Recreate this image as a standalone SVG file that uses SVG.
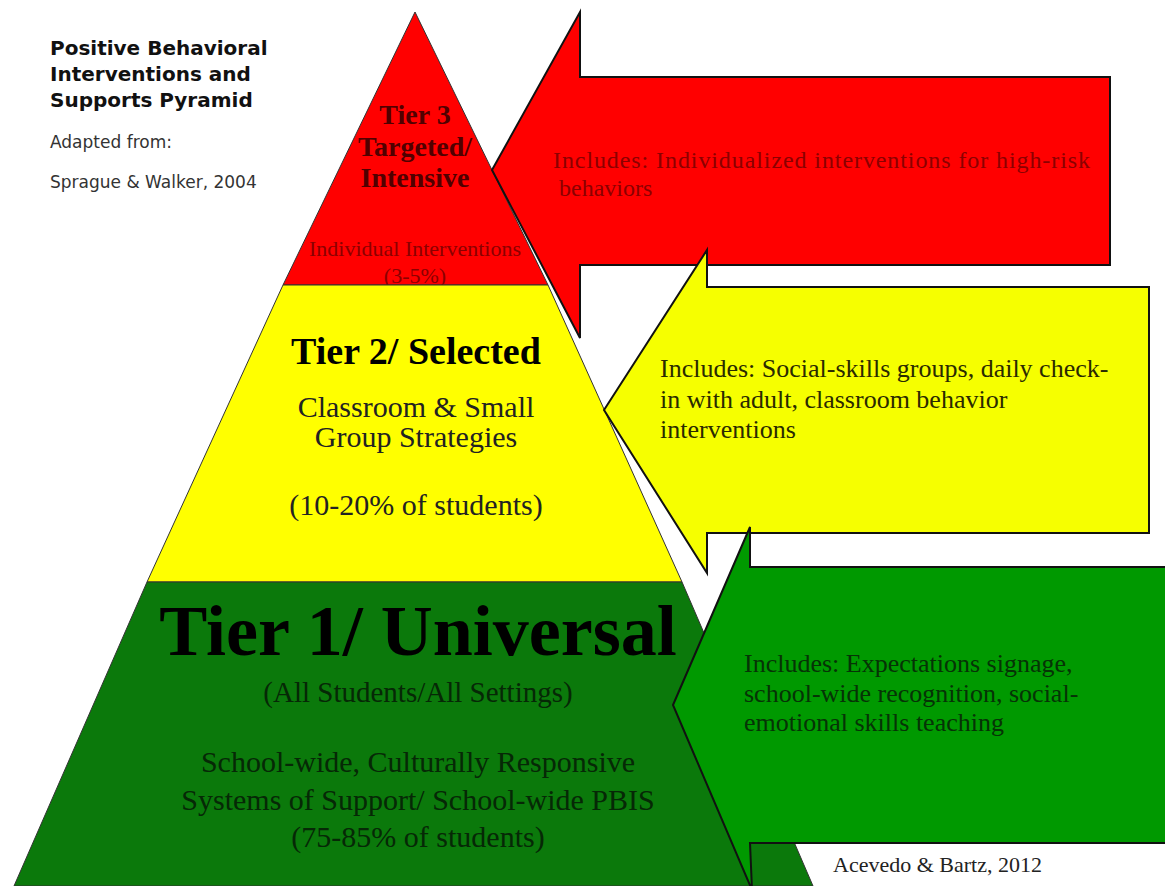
<svg xmlns="http://www.w3.org/2000/svg" width="1165" height="886" viewBox="0 0 1165 886">
<style>
.sans{font-family:"DejaVu Sans","Liberation Sans",sans-serif}
.serif{font-family:"Liberation Serif","Times New Roman",serif}
.b{font-weight:bold}
.mid{text-anchor:middle}
.pyr{stroke:#333;stroke-width:1}
.arr{stroke:#111;stroke-width:2;stroke-linejoin:miter}
</style>
<rect width="1165" height="886" fill="#ffffff"/>
<g id="title">
<text class="sans b" x="50" y="55" font-size="20" fill="#111">Positive Behavioral</text>
<text class="sans b" x="50" y="81" font-size="20" fill="#111">Interventions and</text>
<text class="sans b" x="50" y="107" font-size="20" fill="#111">Supports Pyramid</text>
<text class="sans" x="50" y="148" font-size="17" fill="#333">Adapted from:</text>
<text class="sans" x="50" y="188" font-size="17" fill="#333">Sprague &amp; Walker, 2004</text>
</g>
<g id="tier3">
<polygon class="pyr" points="415,12 548,285 283,285" fill="#ff0000" stroke="#222"/>
<text class="serif b mid" x="415" y="124" font-size="28" fill="#500000">Tier 3</text>
<text class="serif b mid" x="415" y="156" font-size="28" fill="#500000">Targeted/</text>
<text class="serif b mid" x="415" y="187" font-size="28" fill="#500000">Intensive</text>
<text class="serif mid" x="415" y="256" font-size="22" fill="#8b0000">Individual Interventions</text>
<text class="serif mid" x="415" y="283" font-size="22" fill="#8b0000">(3-5%)</text>
</g>
<g id="arrow3">
<polygon class="arr" points="492,170 580,12 580,77 1110,77 1110,265 580,265 580,338" fill="#ff0000" stroke="#3a0000"/>
<text class="serif" x="553" y="168" font-size="24" fill="#8b0000" textLength="537" lengthAdjust="spacing">Includes: Individualized interventions for high-risk</text>
<text class="serif" x="553" y="196" font-size="24" fill="#8b0000" xml:space="preserve"> behaviors</text>
</g>
<g id="tier2">
<polygon class="pyr" points="283,285 548,285 682,582 147,582" fill="#ffff00"/>
<text class="serif b mid" x="416" y="364" font-size="38" fill="#000">Tier 2/ Selected</text>
<text class="serif mid" x="416" y="417" font-size="30" fill="#222">Classroom &amp; Small</text>
<text class="serif mid" x="416" y="447" font-size="30" fill="#222">Group Strategies</text>
<text class="serif mid" x="416" y="515" font-size="30" fill="#222">(10-20% of students)</text>
</g>
<g id="arrow2">
<polygon class="arr" points="604,410 707,250 707,287 1149,287 1149,533 707,533 707,573" fill="#f6ff00"/>
<text class="serif" x="660" y="377" font-size="26" fill="#2a2a00">Includes: Social-skills groups, daily check-</text>
<text class="serif" x="660" y="408" font-size="26" fill="#2a2a00">in with adult, classroom behavior</text>
<text class="serif" x="660" y="438" font-size="26" fill="#2a2a00">interventions</text>
</g>
<g id="tier1">
<polygon class="pyr" points="147,582 682,582 813,886 14,886" fill="#0b790b"/>
<text class="serif b mid" x="418" y="655" font-size="72" fill="#000">Tier 1/ Universal</text>
<text class="serif mid" x="418" y="702" font-size="29" fill="#062806">(All Students/All Settings)</text>
<text class="serif mid" x="418" y="772" font-size="30" fill="#062806">School-wide, Culturally Responsive</text>
<text class="serif mid" x="418" y="810" font-size="30" fill="#062806">Systems of Support/ School-wide PBIS</text>
<text class="serif mid" x="418" y="847" font-size="30" fill="#062806">(75-85% of students)</text>
</g>
<g id="arrow1">
<polygon class="arr" points="673,705 750,527 750,567 1172,567 1172,843 750,843 752,890" fill="#009900"/>
<text class="serif" x="744" y="672" font-size="26" fill="#063306">Includes: Expectations signage,</text>
<text class="serif" x="744" y="702" font-size="26" fill="#063306">school-wide recognition, social-</text>
<text class="serif" x="744" y="731" font-size="26" fill="#063306">emotional skills teaching</text>
</g>
<g id="credit">
<text class="serif" x="833" y="872" font-size="22" fill="#222">Acevedo &amp; Bartz, 2012</text>
</g>
</svg>
